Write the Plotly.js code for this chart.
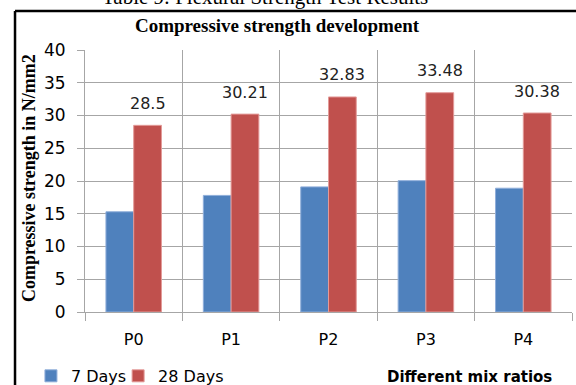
<!DOCTYPE html>
<html>
<head>
<meta charset="utf-8">
<script src="https://cdn.plot.ly/plotly-3.0.1.min.js"></script>
<style>
  html, body { margin: 0; padding: 0; background: #ffffff; }
  #chart { width: 576px; height: 385px; }
</style>
</head>
<body>
<div id="chart"></div>
<script>
// Mix ratios and compressive strength (N/mm2) at 7 and 28 days
const mixRatios = ['P0', 'P1', 'P2', 'P3', 'P4'];
const strength7Days = [15.3, 17.8, 19.1, 20.05, 18.9];
const strength28Days = [28.5, 30.21, 32.83, 33.48, 30.38];
const seriesNames = ['7 Days', '28 Days'];
const yTicks = [0, 5, 10, 15, 20, 25, 30, 35, 40];

const BLUE = '#4F81BD';
const RED = '#C0504D';
const BLUE_EDGE = '#8FAEDA';
const RED_EDGE = '#E39A98';
const GRID = '#A6A6A6';
const SANS = 'DejaVu Sans, sans-serif';
const SERIF = 'Liberation Serif, Times New Roman, serif';

const BARGAP = 0.43;
// centre of the second bar within each category group
const redOffset = (1 - BARGAP) / 4;

const traces = [
  {
    type: 'bar', name: seriesNames[0], x: mixRatios, y: strength7Days,
    marker: { color: BLUE, line: { color: BLUE_EDGE, width: 1 } },
    hoverinfo: 'none', legend: 'legend'
  },
  {
    type: 'bar', name: seriesNames[1], x: mixRatios, y: strength28Days,
    marker: { color: RED, line: { color: RED_EDGE, width: 1 } },
    hoverinfo: 'none', legend: 'legend2'
  }
];

// value labels above the 28-day bars
const valueLabels = strength28Days.map((v, i) => ({
  xref: 'x', yref: 'y', x: i + redOffset, y: v,
  text: String(v), showarrow: false,
  yanchor: 'middle', yshift: 22,
  font: { family: SANS, size: 16, color: '#222222' }
}));

const otherText = [
  {
    xref: 'paper', yref: 'paper', x: 0.370, y: 1.203,
    text: 'Table 9: Flexural Strength Test Results', showarrow: false,
    xanchor: 'center', yanchor: 'middle',
    font: { family: SERIF, size: 21, color: '#000000' }
  },
  {
    xref: 'paper', yref: 'paper', x: -0.115, y: 0.511,
    text: '<b>Compressive strength in N/mm2</b>', showarrow: false,
    textangle: -90, xanchor: 'center', yanchor: 'middle',
    font: { family: SERIF, size: 18, color: '#000000' }
  },
  {
    xref: 'paper', yref: 'paper', x: 0.789, y: -0.248,
    text: '<b>Different mix ratios</b>', showarrow: false,
    xanchor: 'center', yanchor: 'middle',
    font: { family: SANS, size: 15, color: '#000000' }
  }
];

// black frame around the figure (left and top edges visible)
const frame = [
  { type: 'line', xref: 'paper', yref: 'paper', x0: -0.1437, x1: -0.1437, y0: 1.149, y1: -0.32,
    line: { color: '#000000', width: 2.5 } },
  { type: 'line', xref: 'paper', yref: 'paper', x0: -0.1437, x1: 1.03, y0: 1.149, y1: 1.149,
    line: { color: '#000000', width: 2.5 } }
];

const legendStyle = (x) => ({
  orientation: 'h', x: x, xanchor: 'left', y: -0.244, yanchor: 'middle',
  font: { family: SANS, size: 16, color: '#000000' },
  bgcolor: 'rgba(0,0,0,0)', itemwidth: 30
});

const layout = {
  width: 576, height: 385,
  margin: { l: 85, r: 4, t: 50, b: 73, pad: 0, autoexpand: false },
  paper_bgcolor: '#ffffff', plot_bgcolor: '#ffffff',
  title: {
    text: '<b>Compressive strength development</b>',
    font: { family: SERIF, size: 19, color: '#000000' },
    x: 0.481, xanchor: 'center', y: 0.935, yanchor: 'middle'
  },
  barmode: 'group', bargap: BARGAP, bargroupgap: 0,
  showlegend: true,
  legend: legendStyle(-0.111),
  legend2: legendStyle(0.068),
  xaxis: {
    type: 'category', tickson: 'boundaries', ticks: 'outside', ticklen: 8,
    tickcolor: GRID, tickwidth: 1,
    showgrid: true, gridcolor: GRID, gridwidth: 1,
    showline: true, linecolor: GRID, linewidth: 1,
    tickfont: { family: SANS, size: 16, color: '#000000' },
    ticklabelstandoff: 13, fixedrange: true
  },
  yaxis: {
    range: [0, 40], tickvals: yTicks, ticktext: yTicks.map(String),
    ticks: 'outside', ticklen: 7, tickcolor: GRID, tickwidth: 1,
    showgrid: true, gridcolor: GRID, gridwidth: 1,
    showline: true, linecolor: GRID, linewidth: 1, zeroline: false,
    tickfont: { family: SANS, size: 17, color: '#000000' },
    ticklabelstandoff: 8, fixedrange: true
  },
  annotations: valueLabels.concat(otherText),
  shapes: frame
};

Plotly.newPlot('chart', traces, layout, { displayModeBar: false, staticPlot: true });
</script>
</body>
</html>
